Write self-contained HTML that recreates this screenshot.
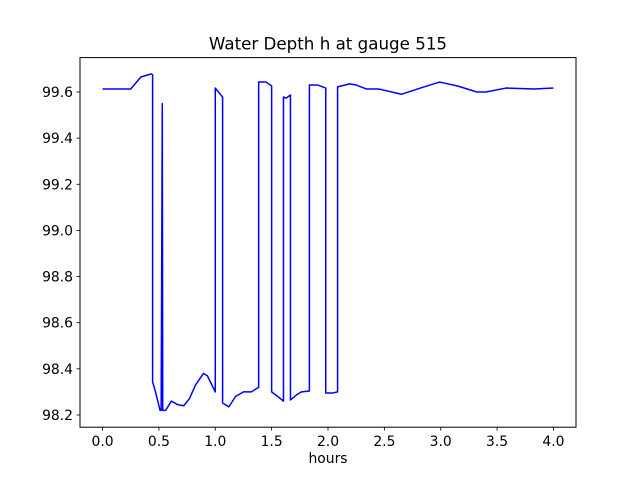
<!DOCTYPE html>
<html><head><meta charset="utf-8"><style>
body{margin:0;background:#fff;}
svg text{font-family:"DejaVu Sans","Liberation Sans",sans-serif;}
</style></head><body>
<svg id="chart" width="640" height="480" xmlns="http://www.w3.org/2000/svg"></svg>
<script>
const xs=[0,0.25,0.34,0.43,0.444,0.444,0.47,0.51,0.52,0.53,0.534,0.56,0.61,0.665,0.72,0.77,0.825,0.895,0.93,1.0,1.0,1.065,1.065,1.12,1.18,1.25,1.32,1.385,1.385,1.45,1.5,1.5,1.57,1.605,1.605,1.63,1.667,1.667,1.72,1.765,1.835,1.835,1.91,1.98,1.98,2.04,2.085,2.085,2.19,2.25,2.34,2.45,2.65,2.82,2.99,3.15,3.32,3.40,3.58,3.83,4.0];
const ys=[99.613,99.613,99.665,99.678,99.675,98.343,98.30,98.22,98.22,99.55,98.22,98.22,98.26,98.245,98.24,98.27,98.33,98.38,98.37,98.30,99.617,99.578,98.252,98.235,98.28,98.30,98.30,98.32,99.643,99.643,99.626,98.30,98.274,98.26,99.578,99.574,99.587,98.265,98.287,98.30,98.304,99.63,99.63,99.617,98.295,98.295,98.30,99.622,99.635,99.63,99.613,99.613,99.59,99.617,99.643,99.626,99.60,99.60,99.617,99.613,99.617];
const xTicks=[0,0.5,1,1.5,2,2.5,3,3.5,4];
const yTicks=[98.2,98.4,98.6,98.8,99.0,99.2,99.4,99.6];
const L=80,R=576,T=57.6,B=427.2,x0=-0.2,x1=4.2,y0=98.147,y1=99.749;
const X=v=>L+(v-x0)/(x1-x0)*(R-L);
const Y=v=>B-(v-y0)/(y1-y0)*(B-T);
const svg=document.getElementById('chart');
const NS='http://www.w3.org/2000/svg';
function mk(tag,attrs,parent){const e=document.createElementNS(NS,tag);for(const k in attrs)e.setAttribute(k,attrs[k]);(parent||svg).appendChild(e);return e;}
let d=xs.map((v,i)=>(i?'L':'M')+X(v).toFixed(2)+','+Y(ys[i]).toFixed(2)).join('');
const line=mk('path',{d:d,fill:'none',stroke:'#0000ff','stroke-width':1.5,'stroke-linejoin':'round'});


const frame=mk('rect',{x:L,y:T,width:R-L,height:B-T,fill:'none',stroke:'#000','stroke-width':1});


xTicks.forEach(t=>{
  mk('line',{x1:X(t),x2:X(t),y1:B,y2:B+3.5,stroke:'#000','stroke-width':0.8});
  const tx=mk('text',{x:X(t),y:B+19,'text-anchor':'middle','font-size':13.9});
  tx.textContent=t.toFixed(1);
  
  
});
yTicks.forEach(t=>{
  mk('line',{x1:L-3.5,x2:L,y1:Y(t),y2:Y(t),stroke:'#000','stroke-width':0.8});
  const tx=mk('text',{x:L-7,y:Y(t)+5,'text-anchor':'end','font-size':13.9});
  tx.textContent=t.toFixed(1);
  
  
});
const xl=mk('text',{x:(L+R)/2,y:B+36,'text-anchor':'middle','font-size':13.9});
xl.textContent='hours';


const ti=mk('text',{x:(L+R)/2,y:T-8,'text-anchor':'middle','font-size':16.7});
ti.textContent='Water Depth h at gauge 515';


</script>
</body></html>
